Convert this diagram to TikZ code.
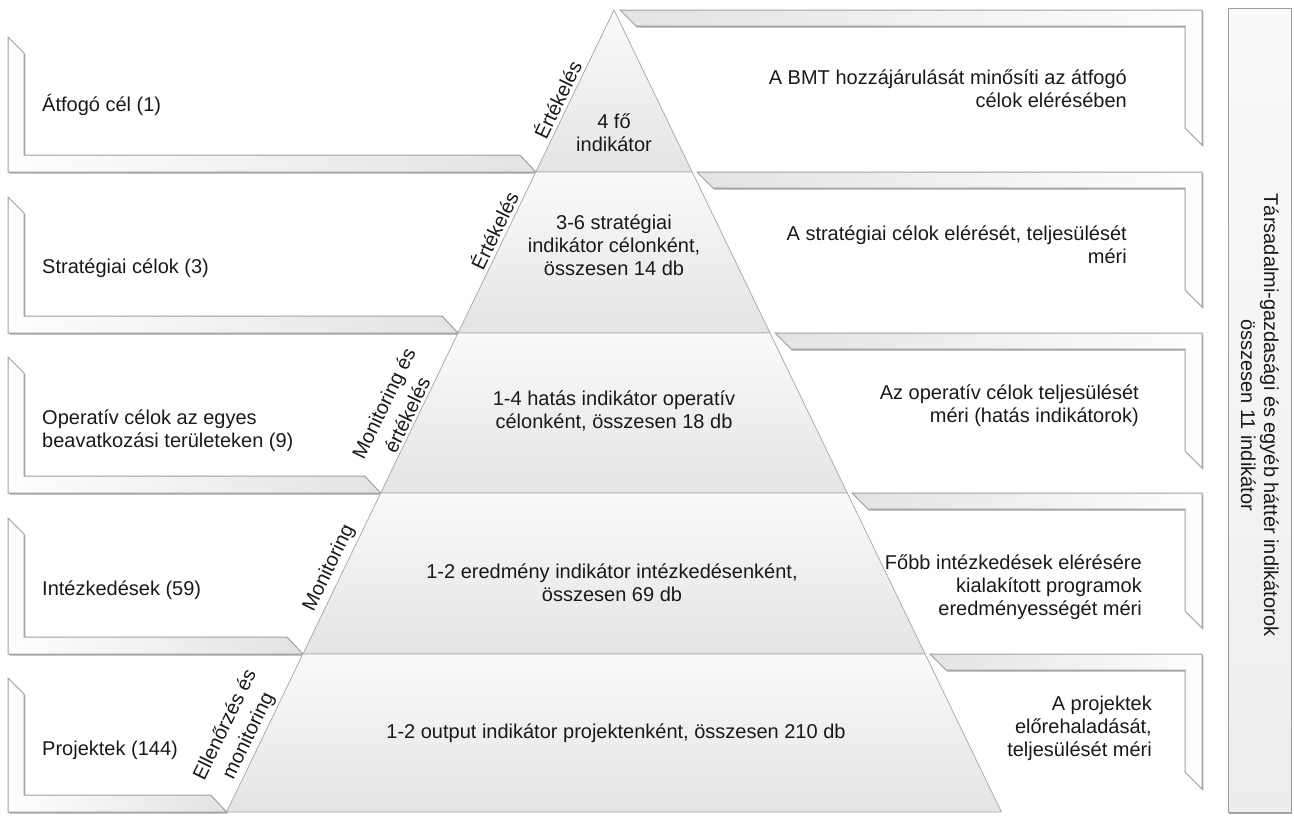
\documentclass[tikz,border=0pt]{standalone}
\usepackage{fontspec}
\setmainfont{Liberation Sans}
\usetikzlibrary{shadows}
\begin{document}
\begin{tikzpicture}[x=1pt,y=-1pt,
  every node/.style={font=\fontsize{20}{23}\selectfont, inner sep=0pt, text=black!90},
  shad/.style={drop shadow={shadow xshift=1.3pt, shadow yshift=-1.6pt, opacity=0.35, fill=black}},
  lshape/.style={shad, draw=gray!75, line width=1pt, left color=gray!1, right color=gray!22},
  rshape/.style={shad, draw=gray!75, line width=1pt, left color=gray!22, right color=gray!1},
  band/.style={draw=gray!65, line width=0.8pt, top color=gray!4, bottom color=gray!21},
  tallbox/.style={shad, draw=gray!75, line width=1pt, top color=gray!4, bottom color=gray!14},
  ltext/.style={align=left, anchor=west},
  rtext/.style={align=right, anchor=east},
  ptext/.style={align=center},
  side/.style={rotate=64.2, anchor=south, align=center, inner sep=3pt,
    font=\fontsize{20}{26}\selectfont}
]
\useasboundingbox (0,0) rectangle (1294,815);

% left bent boxes
\foreach \T/\B/\xe in {37/172/535.8, 197/333/458.0, 357/493/380.7, 518/654/302.9, 678/812/226.6}{
  \draw[lshape] (8,\T) -- (24,\T+16) -- (24,\B-17) -- (\xe-16,\B-17) -- (\xe,\B) -- (8,\B) -- cycle;
}

% right bent boxes
\foreach \T/\xs in {10/620, 172/697, 333/775, 493/852, 654/930}{
  \draw[rshape] (\xs,\T) -- (1202,\T) -- (1202,\T+135) -- (1185,\T+118) -- (1185,\T+16) -- (\xs+16,\T+16) -- cycle;
}

% tall background box
\draw[tallbox] (1228,8) rectangle (1291,812);
\node[rotate=-90, align=center] (bg) at (1260,415)
  {Társadalmi-gazdasági és egyéb háttér indikátorok\\összesen 11 indikátor};

% pyramid
\coordinate (A) at (614,10);
\coordinate (L1) at (535.8,172);  \coordinate (R1) at (692.2,172);
\coordinate (L2) at (458.0,333);  \coordinate (R2) at (770.0,333);
\coordinate (L3) at (380.7,493);  \coordinate (R3) at (847.3,493);
\coordinate (L4) at (302.9,654);  \coordinate (R4) at (925.1,654);
\coordinate (L5) at (226.6,812);  \coordinate (R5) at (1001.4,812);
\draw[band] (A) -- (R1) -- (L1) -- cycle;
\draw[band] (L1) -- (R1) -- (R2) -- (L2) -- cycle;
\draw[band] (L2) -- (R2) -- (R3) -- (L3) -- cycle;
\draw[band] (L3) -- (R3) -- (R4) -- (L4) -- cycle;
\draw[band] (L4) -- (R4) -- (R5) -- (L5) -- cycle;

% pyramid texts
\node[ptext] (p1) at (614,133) {4 fő\\indikátor};
\node[ptext] (p2) at (614,245) {3-6 stratégiai\\indikátor célonként,\\összesen 14 db};
\node[ptext] (p3) at (614,411) {1-4 hatás indikátor operatív\\célonként, összesen 18 db};
\node[ptext] (p4) at (612,583) {1-2 eredmény indikátor intézkedésenként,\\összesen 69 db};
\node[ptext] (p5) at (616,733) {1-2 output indikátor projektenként, összesen 210 db};

% side labels along the left edge
\node[side] (s1) at (567.6,104) {Értékelés};
\node[side] (s2) at (504.4,235) {Értékelés};
\node[side] (s3) at (416.5,419) {Monitoring és\\értékelés};
\node[side] (s4) at (340.6,574) {Monitoring};
\node[side] (s5) at (260.4,742) {Ellenőrzés és\\monitoring};

% left texts
\node[ltext] (l1) at (42,105) {Átfogó cél (1)};
\node[ltext] (l2) at (42,268) {Stratégiai célok (3)};
\node[ltext] (l3) at (42,431) {Operatív célok az egyes\\beavatkozási területeken (9)};
\node[ltext] (l4) at (42,590) {Intézkedések (59)};
\node[ltext] (l5) at (42,750) {Projektek (144)};

% right texts
\node[rtext] (r1) at (1127,89) {A BMT hozzájárulását minősíti az átfogó\\célok elérésében};
\node[rtext] (r2) at (1127,245) {A stratégiai célok elérését, teljesülését\\méri};
\node[rtext] (r3) at (1139,406) {Az operatív célok teljesülését\\méri (hatás indikátorok)};
\node[rtext] (r4) at (1142,587) {Főbb intézkedések elérésére\\kialakított programok\\eredményességét méri};
\node[rtext] (r5) at (1152,728) {A projektek\\előrehaladását,\\teljesülését méri};
\end{tikzpicture}
\end{document}
